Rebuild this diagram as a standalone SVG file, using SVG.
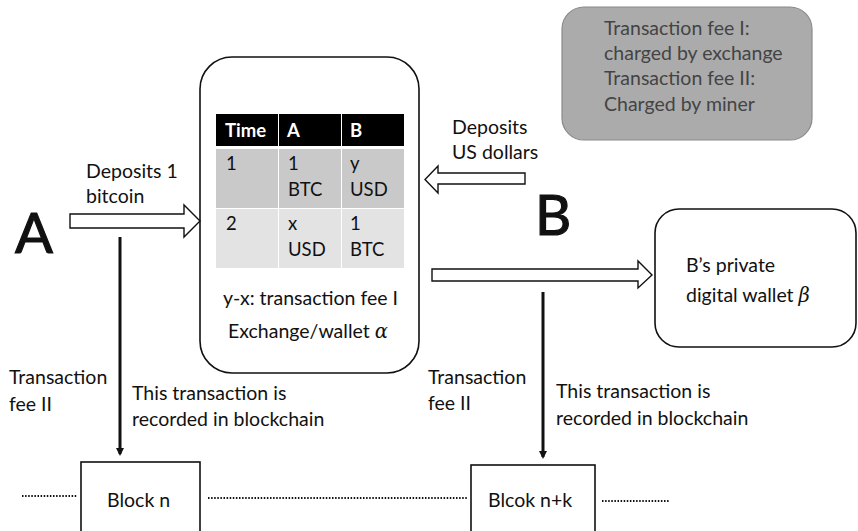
<svg xmlns="http://www.w3.org/2000/svg" width="858" height="531" viewBox="0 0 858 531">
  <style>
    text { font-family: Lato, "Open Sans", "Liberation Sans", sans-serif; fill: #111; }
    .t { font-size: 19.5px; }
    .c { font-size: 18.5px; }
    .big { font-size: 56px; stroke: #111; stroke-width: 1.2; }
    .hdr { font-size: 18.5px; font-weight: bold; fill: #fff; }
    .note { font-size: 19.5px; fill: #444; }
    .box { fill: #fff; stroke: #111; stroke-width: 1.6; }
    .hollow { fill: #fff; stroke: #111; stroke-width: 1.4; stroke-linejoin: miter; }
    .dots { stroke: #111; stroke-width: 2; stroke-dasharray: 1.5 1.6; fill: none; }
    .rec { stroke: #111; stroke-width: 3; fill: none; }
    .greek { font-family: "DejaVu Serif", "Liberation Serif", serif; font-style: italic; }
  </style>
  <defs>
    <marker id="head" markerWidth="8" markerHeight="8" refX="6" refY="4" orient="auto" markerUnits="userSpaceOnUse" viewBox="0 0 8 8">
      <path d="M0,0 L8,4 L0,8 z" fill="#111"/>
    </marker>
  </defs>

  <rect width="858" height="531" fill="#fff"/>

  <!-- fee legend -->
  <g id="legend">
    <rect x="562" y="7" width="250" height="133" rx="22" fill="#ababab" stroke="#8a8a8a" stroke-width="1.2"/>
    <text class="note" x="604" y="35">Transaction fee I:</text>
    <text class="note" x="604" y="60">charged by exchange</text>
    <text class="note" x="604" y="85">Transaction fee II:</text>
    <text class="note" x="604" y="111">Charged by miner</text>
  </g>

  <!-- party A -->
  <g id="partyA">
    <text class="big" x="15" y="253">A</text>
  </g>

  <!-- party B -->
  <g id="partyB">
    <text class="big" x="535" y="235">B</text>
  </g>

  <!-- exchange with balance table -->
  <g id="exchange">
    <rect class="box" x="200" y="57" width="219" height="316" rx="32"/>
    <rect x="216" y="114" width="188" height="32" fill="#000"/>
    <rect x="216" y="149" width="62" height="59" fill="#c9c9c9"/>
    <rect x="279" y="149" width="62" height="59" fill="#c9c9c9"/>
    <rect x="342" y="149" width="62" height="59" fill="#c9c9c9"/>
    <rect x="216" y="209" width="62" height="59" fill="#e3e3e3"/>
    <rect x="279" y="209" width="62" height="59" fill="#e3e3e3"/>
    <rect x="342" y="209" width="62" height="59" fill="#e3e3e3"/>
    <line x1="278.5" y1="114" x2="278.5" y2="146" stroke="#fff" stroke-width="1"/>
    <line x1="341.5" y1="114" x2="341.5" y2="146" stroke="#fff" stroke-width="1"/>
    <text class="hdr" x="225" y="137">Time</text>
    <text class="hdr" x="287" y="137">A</text>
    <text class="hdr" x="350" y="137">B</text>
    <text class="c" x="226" y="170">1</text>
    <text class="c" x="288" y="170">1</text>
    <text class="c" x="288" y="196">BTC</text>
    <text class="c" x="350" y="170">y</text>
    <text class="c" x="350" y="196">USD</text>
    <text class="c" x="226" y="230">2</text>
    <text class="c" x="288" y="230">x</text>
    <text class="c" x="288" y="256">USD</text>
    <text class="c" x="350" y="230">1</text>
    <text class="c" x="350" y="256">BTC</text>
    <text class="t" x="223" y="305">y-x: transaction fee I</text>
    <text class="t" x="228" y="338">Exchange/wallet <tspan class="greek">α</tspan></text>
  </g>

  <!-- B's wallet -->
  <g id="walletB">
    <rect class="box" x="655" y="209" width="201" height="138" rx="24"/>
    <text class="t" x="686" y="272">B’s private</text>
    <text class="t" x="686" y="302">digital wallet <tspan class="greek">β</tspan></text>
  </g>

  <!-- blocks -->
  <g id="blockN">
    <rect class="box" x="81" y="462" width="119" height="70"/>
    <text class="t" x="107" y="507">Block n</text>
  </g>
  <g id="blockNK">
    <rect class="box" x="471" y="465" width="124" height="67"/>
    <text class="t" x="488" y="507">Blcok n+k</text>
  </g>

  <!-- connectors -->
  <g id="connectors">
    <path class="hollow" d="M70,214 L184,214 L184,205 L200,221 L184,237 L184,228 L70,228 Z"/>
    <path class="hollow" d="M525,173 L438,173 L438,166 L425,179.5 L438,193 L438,184 L525,184 Z"/>
    <path class="hollow" d="M432,269 L638,269 L638,261 L652,275 L638,288 L638,281 L432,281 Z"/>
    <line class="rec" x1="120" y1="237" x2="120" y2="454" marker-end="url(#head)"/>
    <line class="rec" x1="543" y1="292" x2="543" y2="457" marker-end="url(#head)"/>
    <line class="dots" x1="22" y1="496" x2="77" y2="496"/>
    <line class="dots" x1="208" y1="498" x2="467" y2="498"/>
    <line class="dots" x1="602" y1="501" x2="669" y2="501"/>
  </g>

  <!-- connector labels -->
  <g id="labels">
    <text class="t" x="86" y="178">Deposits 1</text>
    <text class="t" x="86" y="203">bitcoin</text>
    <text class="t" x="452" y="134">Deposits</text>
    <text class="t" x="452" y="159">US dollars</text>
    <text class="t" x="9" y="384">Transaction</text>
    <text class="t" x="9" y="411">fee II</text>
    <text class="t" x="132" y="400">This transaction is</text>
    <text class="t" x="132" y="426">recorded in blockchain</text>
    <text class="t" x="428" y="384">Transaction</text>
    <text class="t" x="428" y="410">fee II</text>
    <text class="t" x="556" y="398">This transaction is</text>
    <text class="t" x="556" y="425">recorded in blockchain</text>
  </g>
</svg>
